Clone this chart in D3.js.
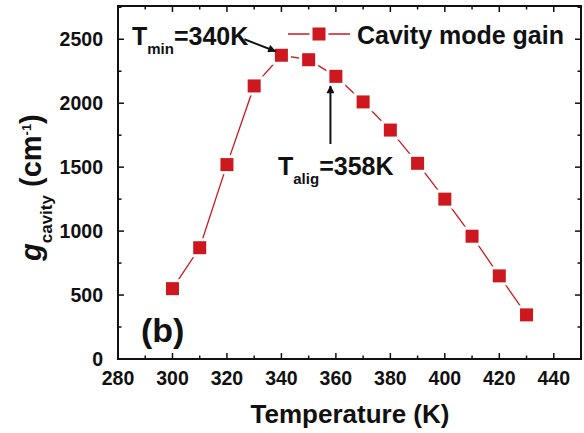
<!DOCTYPE html>
<html lang="en">
<head>
    <meta charset="UTF-8">
    <script type="text/javascript" src="https://cdn.jsdelivr.net/npm/d3@7/dist/d3.min.js"></script>
    <title>cavity gain</title>
    <style>
        body { margin: 0; background: #fff; }
        text { font-family: "Liberation Sans", Arial, sans-serif; font-weight: bold; fill: #111; }
    </style>
</head>
<body>
</body>
<script>

    // data
    let temps = [300, 310, 320, 330, 340, 350, 360, 370, 380, 390, 400, 410, 420, 430];
    let gain = [550, 870, 1520, 2135, 2375, 2340, 2210, 2010, 1790, 1530, 1250, 960, 650, 345];
    let xTicks = [280, 300, 320, 340, 360, 380, 400, 420, 440];
    let yTicks = [0, 500, 1000, 1500, 2000, 2500];
    let seriesName = "Cavity mode gain";

    let width = 584, height = 433;
    let pLeft = 118, pRight = 581, pTop = 6, pBottom = 359;
    let red = "#cc181e";

    let svg = d3.select("body")
        .append("svg")
        .attr("width", width)
        .attr("height", height);

    let x = d3.scaleLinear().domain([280, 450]).range([pLeft, pRight]);
    let y = d3.scaleLinear().domain([0, 2760]).range([pBottom, pTop]);

    // arrow head
    svg.append("defs").append("marker")
        .attr("id", "head")
        .attr("viewBox", "0 0 10 10")
        .attr("refX", 9).attr("refY", 5)
        .attr("markerWidth", 10).attr("markerHeight", 8)
        .attr("markerUnits", "userSpaceOnUse")
        .attr("orient", "auto")
        .append("path")
        .attr("d", "M0,0 L10,5 L0,10 Z")
        .attr("fill", "#111");

    // ticks on all four sides, pointing in
    let xMinor = d3.range(280, 451, 10);
    let yMinor = d3.range(0, 2751, 250);
    let tickG = svg.append("g").attr("stroke", "#111").attr("stroke-width", 1.5);
    xMinor.forEach(function (v) {
        let len = (v % 20 === 0) ? 6 : 3.5;
        tickG.append("line").attr("x1", x(v)).attr("x2", x(v)).attr("y1", pBottom).attr("y2", pBottom - len);
        tickG.append("line").attr("x1", x(v)).attr("x2", x(v)).attr("y1", pTop).attr("y2", pTop + len);
    });
    yMinor.forEach(function (v) {
        let len = (v % 500 === 0) ? 6 : 3.5;
        tickG.append("line").attr("y1", y(v)).attr("y2", y(v)).attr("x1", pLeft).attr("x2", pLeft + len);
        tickG.append("line").attr("y1", y(v)).attr("y2", y(v)).attr("x1", pRight).attr("x2", pRight - len);
    });

    // frame
    svg.append("rect")
        .attr("x", pLeft).attr("y", pTop)
        .attr("width", pRight - pLeft).attr("height", pBottom - pTop)
        .attr("fill", "none")
        .attr("stroke", "#111")
        .attr("stroke-width", 2);

    // tick labels
    svg.selectAll(".xl").data(xTicks).enter().append("text")
        .attr("x", d => x(d)).attr("y", 385)
        .attr("text-anchor", "middle")
        .attr("font-size", 19.5)
        .text(d => d);
    svg.selectAll(".yl").data(yTicks).enter().append("text")
        .attr("x", 103).attr("y", d => y(d) + 6.5)
        .attr("text-anchor", "end")
        .attr("font-size", 19.5)
        .text(d => d);

    // axis titles
    svg.append("text")
        .attr("x", 350).attr("y", 422.5)
        .attr("text-anchor", "middle")
        .attr("font-size", 26)
        .text("Temperature (K)");

    let yt = svg.append("text")
        .attr("transform", "translate(41,261) rotate(-90)")
        .attr("font-size", 29);
    yt.append("tspan").attr("font-style", "italic").text("g");
    yt.append("tspan").attr("font-size", 17).attr("dy", 11).text("cavity");
    yt.append("tspan").attr("dy", -11).text(" (cm");
    yt.append("tspan").attr("font-size", 13).attr("dy", -10).text("-1");
    yt.append("tspan").attr("dy", 10).text(")");

    // series line with marker gaps
    let line = d3.line().x((d, i) => x(temps[i])).y(d => y(d));
    svg.append("path")
        .datum(gain)
        .attr("d", line)
        .attr("fill", "none")
        .attr("stroke", red)
        .attr("stroke-width", 1.3);

    let pts = svg.append("g");
    pts.selectAll(".halo").data(gain).enter().append("rect")
        .attr("x", (d, i) => x(temps[i]) - 9.5).attr("y", d => y(d) - 9.5)
        .attr("width", 19).attr("height", 19)
        .attr("fill", "#fff");
    pts.selectAll(".pt").data(gain).enter().append("rect")
        .attr("x", (d, i) => x(temps[i]) - 6.5).attr("y", d => y(d) - 6.5)
        .attr("width", 13).attr("height", 13)
        .attr("fill", red);

    // legend
    let lg = svg.append("g");
    lg.append("line").attr("x1", 288).attr("x2", 350).attr("y1", 34).attr("y2", 34)
        .attr("stroke", red).attr("stroke-width", 1.3);
    lg.append("rect").attr("x", 309.5).attr("y", 24.5).attr("width", 19).attr("height", 19).attr("fill", "#fff");
    lg.append("rect").attr("x", 312.5).attr("y", 27.5).attr("width", 13).attr("height", 13).attr("fill", red);
    lg.append("text").attr("x", 357).attr("y", 44).attr("font-size", 25).text(seriesName);

    // panel label
    svg.append("text").attr("x", 141).attr("y", 342).attr("font-size", 34).text("(b)");

    // annotations
    let a1 = svg.append("text").attr("x", 132).attr("y", 44.5).attr("font-size", 25);
    a1.append("tspan").text("T");
    a1.append("tspan").attr("font-size", 15).attr("dy", 9).text("min");
    a1.append("tspan").attr("dy", -9).text("=340K");
    svg.append("line")
        .attr("x1", x(340) - 37).attr("y1", y(2375) - 16)
        .attr("x2", x(340) - 6).attr("y2", y(2375) - 4)
        .attr("stroke", "#111").attr("stroke-width", 2)
        .attr("marker-end", "url(#head)");

    let a2 = svg.append("text").attr("x", 278).attr("y", 174.5).attr("font-size", 25);
    a2.append("tspan").text("T");
    a2.append("tspan").attr("font-size", 15).attr("dy", 9).text("alig");
    a2.append("tspan").attr("dy", -9).text("=358K");
    svg.append("line")
        .attr("x1", x(358)).attr("y1", 144)
        .attr("x2", x(358)).attr("y2", 86)
        .attr("stroke", "#111").attr("stroke-width", 2)
        .attr("marker-end", "url(#head)");

</script>
</html>
